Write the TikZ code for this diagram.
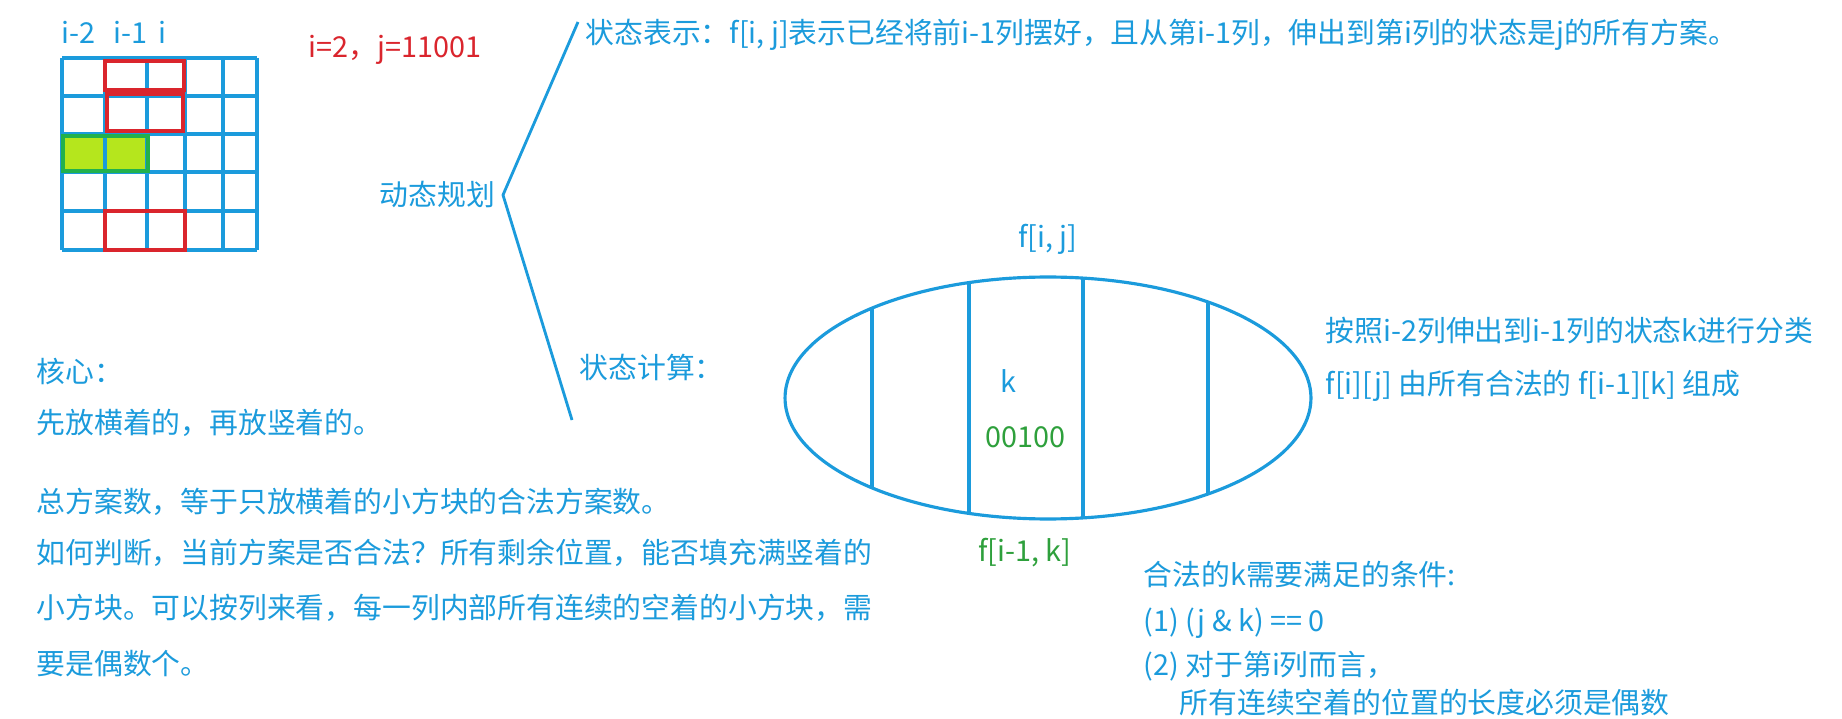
\documentclass[tikz,border=0pt]{standalone}
\usepackage{fontspec}
\setmainfont{Noto Sans CJK SC}
\usepackage{tikz}
\usetikzlibrary{positioning,shapes.geometric}

\definecolor{inkblue}{RGB}{27,155,220}
\definecolor{inkred}{RGB}{218,37,45}
\definecolor{inkgreen}{RGB}{46,160,60}
\definecolor{limefill}{RGB}{181,230,29}
\definecolor{boxgreen}{RGB}{34,177,76}

\begin{document}
\begin{tikzpicture}[x=0.02cm,y=-0.02cm,node distance=0.4cm,line width=1.9pt,
      txt node/.style={anchor=west,inner sep=0pt,text height=14pt,text depth=2pt,
        font=\fontsize{16.4}{20}\selectfont,text=inkblue},
      red node/.style={txt node,text=inkred},
      green node/.style={txt node,text=inkgreen},
      grid line/.style={draw=inkblue},
      red box/.style={draw=inkred},
      green box/.style={draw=boxgreen},
      branch line/.style={draw=inkblue,line width=1.6pt},
      state set/.style={ellipse,draw=inkblue,inner sep=0pt,line width=1.8pt,
        minimum width=10.52cm,minimum height=4.84cm}]

    \path[use as bounding box,fill=white] (0,0) rectangle (1842,719);

    % board: i-2, i-1, i columns
    \foreach \x/\t/\n in {60/i-2/1,112/i-1/2,157/i/3}
      \node[txt node] (col\n) at (\x,33) {\t};
    \fill[limefill] (63,136) rectangle (148,171);
    \foreach \x in {62,105,147,185,223,257}
      \draw[grid line] (\x,58) -- (\x,250);
    \foreach \y in {58,96,134,172,211,250}
      \draw[grid line] (62,\y) -- (257,\y);
    \draw[green box] (63,136) rectangle (148,171);
    \draw[red box] (105,61) rectangle (184,90);
    \draw[red box] (107,94) rectangle (183,131);
    \draw[red box] (105,211) rectangle (185,250);
    \node[red node] (state) at (307,47) {i=2，j=11001};

    % dp branch
    \node[txt node] (dp) at (378,195) {动态规划};
    \node[txt node] (repr) at (584,33) {状态表示：f[i, j]表示已经将前i-1列摆好，且从第i-1列，伸出到第i列的状态是j的所有方案。};
    \node[txt node] (calc) at (578,368) {状态计算：};
    \coordinate (top) at (578,22);
    \coordinate (apex) at (503,195);
    \coordinate (bot) at (572,420);
    \draw[branch line] (top) -- (apex) -- (bot);

    % state set f[i, j]
    \node[state set] (fij) at (1048,398) {};
    \begin{scope}
      \clip (fij.center) ellipse [x radius=5.26cm,y radius=2.42cm];
      \foreach \x in {872,969,1083,1208}
        \draw[grid line,line width=1.8pt] (\x,250) -- (\x,550);
    \end{scope}
    \node[txt node] (fijlbl) [above=0.46cm of fij] {f[i, j]};
    \node[green node] (fklbl) [below=0.3cm of fij,xshift=-0.46cm] {f[i-1, k]};
    \node[txt node,anchor=center] (k) at (1008,382) {k};
    \node[green node,anchor=center] (kbits) at (1025,437) {00100};

    \node[txt node] (split) at (1324,331) {按照i-2列伸出到i-1列的状态k进行分类};
    \node[txt node] (compose) [below=0.44cm of split.south west,anchor=north west] {f[i][j] 由所有合法的 f[i-1][k] 组成};

    % left notes
    \node[txt node] (core) at (35,372) {核心：};
    \node[txt node] (order) [below=0.4cm of core.south west,anchor=north west] {先放横着的，再放竖着的。};
    \node[txt node] (total) at (35,502) {总方案数，等于只放横着的小方块的合法方案数。};
    \node[txt node] (judge) [below=0.4cm of total.south west,anchor=north west] {如何判断，当前方案是否合法？所有剩余位置，能否填充满竖着的};
    \node[txt node] (judge2) [below=0.46cm of judge.south west,anchor=north west] {小方块。可以按列来看，每一列内部所有连续的空着的小方块，需};
    \node[txt node] (judge3) [below=0.5cm of judge2.south west,anchor=north west] {要是偶数个。};

    % conditions on k
    \node[txt node] (cond) at (1142,575) {合法的k需要满足的条件:};
    \node[txt node] (cond1) [below=0.3cm of cond.south west,anchor=north west] {(1) (j \& k) == 0};
    \node[txt node] (cond2) [below=0.24cm of cond1.south west,anchor=north west] {(2) 对于第i列而言，};
    \node[txt node] (cond3) [below=0.13cm of cond2.south west,anchor=north west,xshift=0.72cm] {所有连续空着的位置的长度必须是偶数};
\end{tikzpicture}
\end{document}
